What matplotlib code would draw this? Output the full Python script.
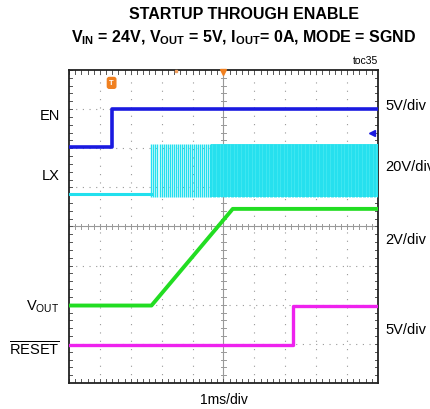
import numpy as np
import matplotlib.pyplot as plt

plt.rcParams['font.family'] = ['Liberation Sans', 'DejaVu Sans']
plt.rcParams['mathtext.fontset'] = 'custom'
plt.rcParams['mathtext.rm'] = 'Liberation Sans'
plt.rcParams['mathtext.bf'] = 'Liberation Sans:bold'

# scope traces, in divisions (x: 0..10, y: 0..8 from bottom)
en_x = [0, 1.38, 1.38, 10]
en_y = [6.03, 6.03, 7.0, 7.0]

lx_base_x = [0, 2.67]
lx_base_y = [4.83, 4.83]
lx_low = 4.75
lx_high = 6.1
# (start, end, pulse spacing, line width) of the switching burst
lx_burst = [(2.67, 4.6, 0.065, 1.0), (4.6, 10.0, 0.045, 0.6)]
lx_solid_from = 4.6

vout_x = [0, 2.67, 5.3, 10]
vout_y = [1.98, 1.98, 4.45, 4.45]

rst_x = [0, 7.24, 7.24, 10]
rst_y = [0.98, 0.98, 1.98, 1.98]

left_labels = ['EN', 'LX', r'V$_{\rm OUT}$', r'$\overline{\rm RESET}$']
left_y = [6.85, 5.32, 1.98, 0.88]
right_labels = ['5V/div', '20V/div', '2V/div', '5V/div']
right_y = [7.1, 5.55, 3.68, 1.38]

fig = plt.figure(figsize=(4.31, 4.10), dpi=100)
ax = fig.add_axes([0.160, 0.0634, 0.717, 0.7635])
ax.set_xlim(0, 10)
ax.set_ylim(0, 8)
ax.set_xticks([])
ax.set_yticks([])
for s in ax.spines.values():
    s.set_linewidth(1.3)
    s.set_color('#222222')

# dotted grid
for gx in range(1, 10):
    if gx != 5:
        ax.plot([gx, gx], [0, 8], color='#999999', lw=0.8, ls=(0, (1, 6.5)), zorder=1)
for gy in range(1, 8):
    if gy != 4:
        ax.plot([0, 10], [gy, gy], color='#999999', lw=0.8, ls=(0, (1, 5)), zorder=1)

# center cross with minor ticks
ax.plot([5, 5], [0, 8], color='#999999', lw=0.8, zorder=1)
ax.plot([0, 10], [4, 4], color='#999999', lw=0.8, zorder=1)
mx = np.arange(0, 10.01, 0.2)
my = np.arange(0, 8.01, 0.2)
dx = 0.09
dy = 0.07
for v in mx:
    ax.plot([v, v], [4 - dy, 4 + dy], color='#999999', lw=0.7, zorder=1)
    ax.plot([v, v], [0, 0.1], color='#555555', lw=0.7, zorder=1)
    ax.plot([v, v], [7.9, 8], color='#555555', lw=0.7, zorder=1)
for v in my:
    ax.plot([5 - dx, 5 + dx], [v, v], color='#999999', lw=0.7, zorder=1)
    ax.plot([0, 0.1], [v, v], color='#555555', lw=0.7, zorder=1)
    ax.plot([9.9, 10], [v, v], color='#555555', lw=0.7, zorder=1)

# traces
ax.plot(lx_base_x, lx_base_y, color='#22e0ee', lw=2.2, zorder=3)
ax.fill_between([lx_solid_from, 10], lx_low, lx_high, color='#3ee6f0', lw=0, zorder=3)
for start, end, step, w in lx_burst:
    xs = np.arange(start, end, step)
    ax.vlines(xs, lx_low, lx_high, color='#22e0ee', lw=w, zorder=3)
ax.plot(en_x, en_y, color='#1a1ae0', lw=2.6, zorder=4)
ax.plot(vout_x, vout_y, color='#22dd22', lw=2.8, zorder=4)
ax.plot(rst_x, rst_y, color='#ee22ee', lw=2.4, zorder=4)

# scope markers
ax.text(1.38, 7.67, 'T', color='white', fontsize=5.5, fontweight='bold', ha='center', va='center',
        bbox=dict(boxstyle='round,pad=0.25', fc='#f08020', ec='#f08020'), zorder=5)
ax.plot([5], [7.94], marker='v', color='#f08020', ms=5, clip_on=False, zorder=5)
ax.plot([3.45], [7.97], marker='s', color='#f0a060', ms=2, clip_on=False, zorder=5)
ax.plot([9.82], [6.39], marker='<', color='#1a1ae0', ms=4, zorder=5)

for lab, y in zip(left_labels, left_y):
    ax.text(-0.3, y, lab, fontsize=10.5, ha='right', va='center')
for lab, y in zip(right_labels, right_y):
    ax.text(10.25, y, lab, fontsize=10.5, ha='left', va='center', clip_on=False)

ax.text(5, -0.4, '1ms/div', fontsize=10, ha='center', va='center')
ax.text(10, 8.12, 'toc35', fontsize=7.5, ha='right', va='bottom')

fig.text(0.567, 0.965, 'STARTUP THROUGH ENABLE', fontsize=11.5, fontweight='bold', ha='center', va='center')
fig.text(0.565, 0.908, r'$\mathbf{V_{IN}}$ = 24V, $\mathbf{V_{OUT}}$ = 5V, $\mathbf{I_{OUT}}$= 0A, MODE = SGND',
         fontsize=11.5, fontweight='bold', ha='center', va='center')

fig.savefig('out.png', dpi=100)
